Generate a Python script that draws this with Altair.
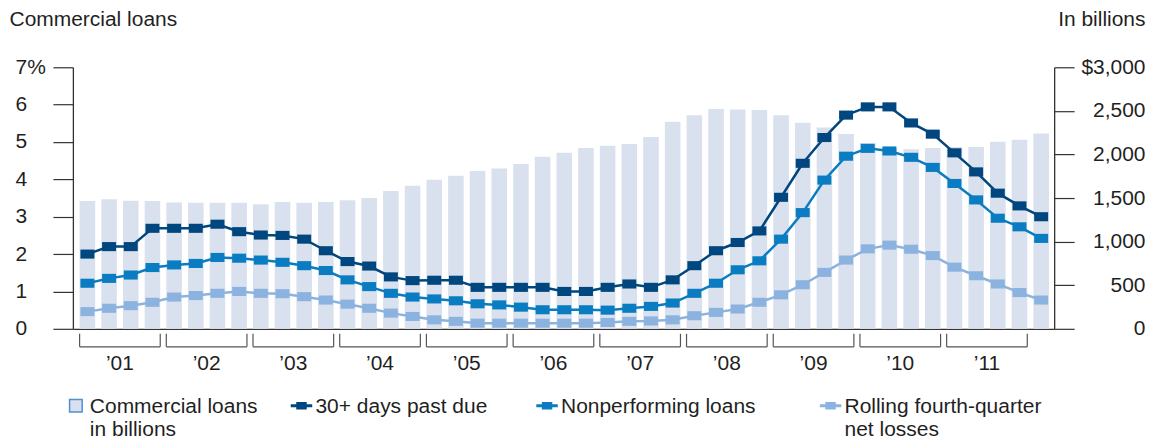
import altair as alt
import pandas as pd

# ---------------- data (quarterly, 2001 Q1 .. 2012 Q1) ----------------
years = ["\u201901", "\u201902", "\u201903", "\u201904", "\u201905", "\u201906",
         "\u201907", "\u201908", "\u201909", "\u201910", "\u201911"]

loans = [1465, 1485, 1470, 1465, 1450, 1445, 1445, 1445, 1430, 1455, 1445, 1455,
         1475, 1500, 1580, 1640, 1710, 1755, 1810, 1840, 1890, 1975, 2020, 2075,
         2100, 2120, 2200, 2375, 2450, 2520, 2515, 2510, 2450, 2365, 2310, 2235,
         2130, 2070, 2060, 2075, 2085, 2085, 2145, 2170, 2240]

past_due = [2.0, 2.2, 2.2, 2.69, 2.69, 2.69, 2.8, 2.6, 2.51, 2.5, 2.4, 2.09,
            1.8, 1.68, 1.39, 1.29, 1.3, 1.3, 1.11, 1.11, 1.11, 1.11, 1.0, 1.0,
            1.11, 1.2, 1.11, 1.31, 1.69, 2.09, 2.31, 2.62, 3.52, 4.43, 5.12, 5.72,
            5.94, 5.94, 5.51, 5.21, 4.71, 4.2, 3.63, 3.29, 3.0]

nonperf = [1.22, 1.35, 1.44, 1.64, 1.71, 1.75, 1.91, 1.89, 1.84, 1.78, 1.69, 1.56,
           1.31, 1.13, 0.95, 0.85, 0.80, 0.75, 0.67, 0.64, 0.58, 0.51, 0.51, 0.51,
           0.50, 0.55, 0.60, 0.69, 0.95, 1.22, 1.58, 1.82, 2.40, 3.11, 3.98, 4.62,
           4.83, 4.76, 4.59, 4.32, 3.89, 3.45, 2.96, 2.73, 2.42]

net_loss = [0.46, 0.55, 0.62, 0.71, 0.85, 0.89, 0.95, 1.0, 0.95, 0.94, 0.86, 0.77,
            0.66, 0.55, 0.42, 0.33, 0.24, 0.2, 0.15, 0.15, 0.15, 0.15, 0.15, 0.15,
            0.17, 0.2, 0.21, 0.24, 0.35, 0.44, 0.53, 0.71, 0.91, 1.18, 1.51, 1.84,
            2.14, 2.24, 2.13, 1.96, 1.65, 1.42, 1.2, 0.97, 0.77]

series_names = ["30+ days past due", "Nonperforming loans",
                "Rolling fourth-quarter net losses"]
legend_names = ["Commercial loans|in billions", "30+ days past due",
                "Nonperforming loans", "Rolling fourth-quarter|net losses"]

# ---------------- styling ----------------
FONT = "Liberation Sans"
TEXT = "#1f1f1f"
AX = "#333333"
BRK = "#555555"
BAR = "#dae1ee"
BAR_STROKE = "#4f8fd3"
DARK = "#00467f"
MED = "#0a7cc1"
LIGHT = "#8cb3df"

MARKER = "M-1,-0.65H1V0.65H-1Z"
LEG_SQ = "M-0.63,0.37H0.63V1.63H-0.63Z"
LEG_LN = "M-1,0.92H1V1.08H-1Z M-0.45,0.7H0.45V1.3H-0.45Z"
# zero-length sub-paths only widen the legend entry (spacing between items)
LEG_LN_2 = LEG_LN + " M20,1L20,1"
LEG_LN_3 = LEG_LN + " M23.8,1L23.8,1"

idx = list(range(len(loans)))
bars_df = pd.DataFrame({"i": idx, "loans": loans})
long_df = pd.concat([pd.DataFrame({"i": idx, "value": v, "series": s})
                     for s, v in zip(series_names, [past_due, nonperf, net_loss])])
years_df = pd.DataFrame({"year": years, "start": [4 * k for k in range(len(years))]})
legend_df = pd.DataFrame({"series": legend_names})

xs = alt.Scale(domain=[-0.67, 44.6], nice=False, zero=False)
xaxis = alt.Axis(labels=False, ticks=False, grid=False, domain=True, title=None,
                 domainColor=AX, domainWidth=1.3)

left_axis = alt.Axis(orient="left", values=list(range(8)),
                     labelExpr="datum.value == 7 ? '7%' : datum.label",
                     tickSize=20, labelAlign="left", labelPadding=38, grid=False,
                     title="Commercial loans", titleAngle=0, titleAlign="left",
                     titleBaseline="alphabetic", titleX=-64, titleY=-42)
right_axis = alt.Axis(orient="right", values=[0, 500, 1000, 1500, 2000, 2500, 3000],
                      labelExpr="(datum.value == 3000 ? '$' : '') + format(datum.value, ',')",
                      tickSize=20, labelAlign="right", labelPadding=71, grid=False,
                      title="In billions", titleAngle=0, titleAlign="right",
                      titleBaseline="alphabetic", titleX=91, titleY=-42)

bars = alt.Chart(bars_df).transform_calculate(
    x0="datum.i - 0.36", x1="datum.i + 0.36"
).mark_bar(color=BAR).encode(
    x=alt.X("x0:Q", scale=xs, axis=xaxis),
    x2="x1:Q",
    y=alt.Y("loans:Q", scale=alt.Scale(domain=[0, 3000], nice=False), axis=right_axis),
    y2=alt.datum(0),
)

yl = alt.Y("value:Q", scale=alt.Scale(domain=[0, 7], nice=False), axis=left_axis)
col = alt.Color("series:N", scale=alt.Scale(domain=series_names, range=[DARK, MED, LIGHT]),
                legend=None)

lines = alt.Chart(long_df).mark_line(strokeWidth=2.5).encode(
    x=alt.X("i:Q", scale=xs, axis=xaxis), y=yl, color=col, detail="series:N")

points = alt.Chart(long_df).mark_point(filled=True, opacity=1, shape=MARKER, size=196,
                                       strokeWidth=0).encode(
    x=alt.X("i:Q", scale=xs, axis=xaxis), y=yl, color=col)

brk = alt.Chart(years_df).transform_calculate(
    xa="datum.start - 0.36", xb="datum.start + 3.36", mid="datum.start + 1.5")

br_h = brk.mark_rule(color=BRK, strokeWidth=1.2).encode(
    x=alt.X("xa:Q", scale=xs, axis=xaxis), x2="xb:Q", y=alt.value(280))
br_l = brk.mark_rule(color=BRK, strokeWidth=1.2).encode(
    x=alt.X("xa:Q", scale=xs, axis=xaxis), y=alt.value(267), y2=alt.value(280))
br_r = brk.mark_rule(color=BRK, strokeWidth=1.2).encode(
    x=alt.X("xb:Q", scale=xs, axis=xaxis), y=alt.value(267), y2=alt.value(280))
yr_txt = brk.mark_text(font=FONT, fontSize=21, color=TEXT, baseline="alphabetic",
                       align="center").encode(
    x=alt.X("mid:Q", scale=xs, axis=xaxis), y=alt.value(303), text="year:N")

leg = alt.Legend(title=None, orient="none", legendX=-8, legendY=318,
                 direction="horizontal", columns=4, gridAlign="none",
                 columnPadding=30, symbolSize=400, symbolStrokeWidth=1.5,
                 labelFontSize=21, labelFont=FONT, labelColor=TEXT, labelLimit=400,
                 labelOffset=3, labelBaseline="top",
                 labelExpr="split(datum.label, '|')", padding=0)

legend_layer = alt.Chart(legend_df).transform_filter("false").mark_point(
    filled=True, opacity=1).encode(
    shape=alt.Shape("series:N", scale=alt.Scale(domain=legend_names,
                                                range=[LEG_SQ, LEG_LN_2, LEG_LN_3, LEG_LN]),
                    legend=leg),
    fill=alt.Fill("series:N", scale=alt.Scale(domain=legend_names,
                                              range=[BAR, DARK, MED, LIGHT]), legend=leg),
    stroke=alt.Stroke("series:N", scale=alt.Scale(domain=legend_names,
                                                  range=[BAR_STROKE, DARK, MED, LIGHT]),
                      legend=leg),
)

inner = alt.layer(br_h, br_l, br_r, yr_txt, lines, points, legend_layer)

chart = alt.layer(bars, inner).resolve_scale(y="independent").properties(
    width=983, height=262,
    autosize=alt.AutoSizeParams(type="none"),
    padding={"left": 65, "top": 59, "right": 92, "bottom": 110},
).configure(font=FONT).configure_view(stroke=None).configure_axis(
    labelFont=FONT, labelFontSize=21, labelColor=TEXT,
    titleFont=FONT, titleFontSize=21, titleFontWeight="normal", titleColor=TEXT,
    tickColor=AX, tickWidth=1.2, domainColor=AX, domainWidth=1.3,
)

chart.save("out.html", embed_options={"renderer": "svg", "actions": False})
